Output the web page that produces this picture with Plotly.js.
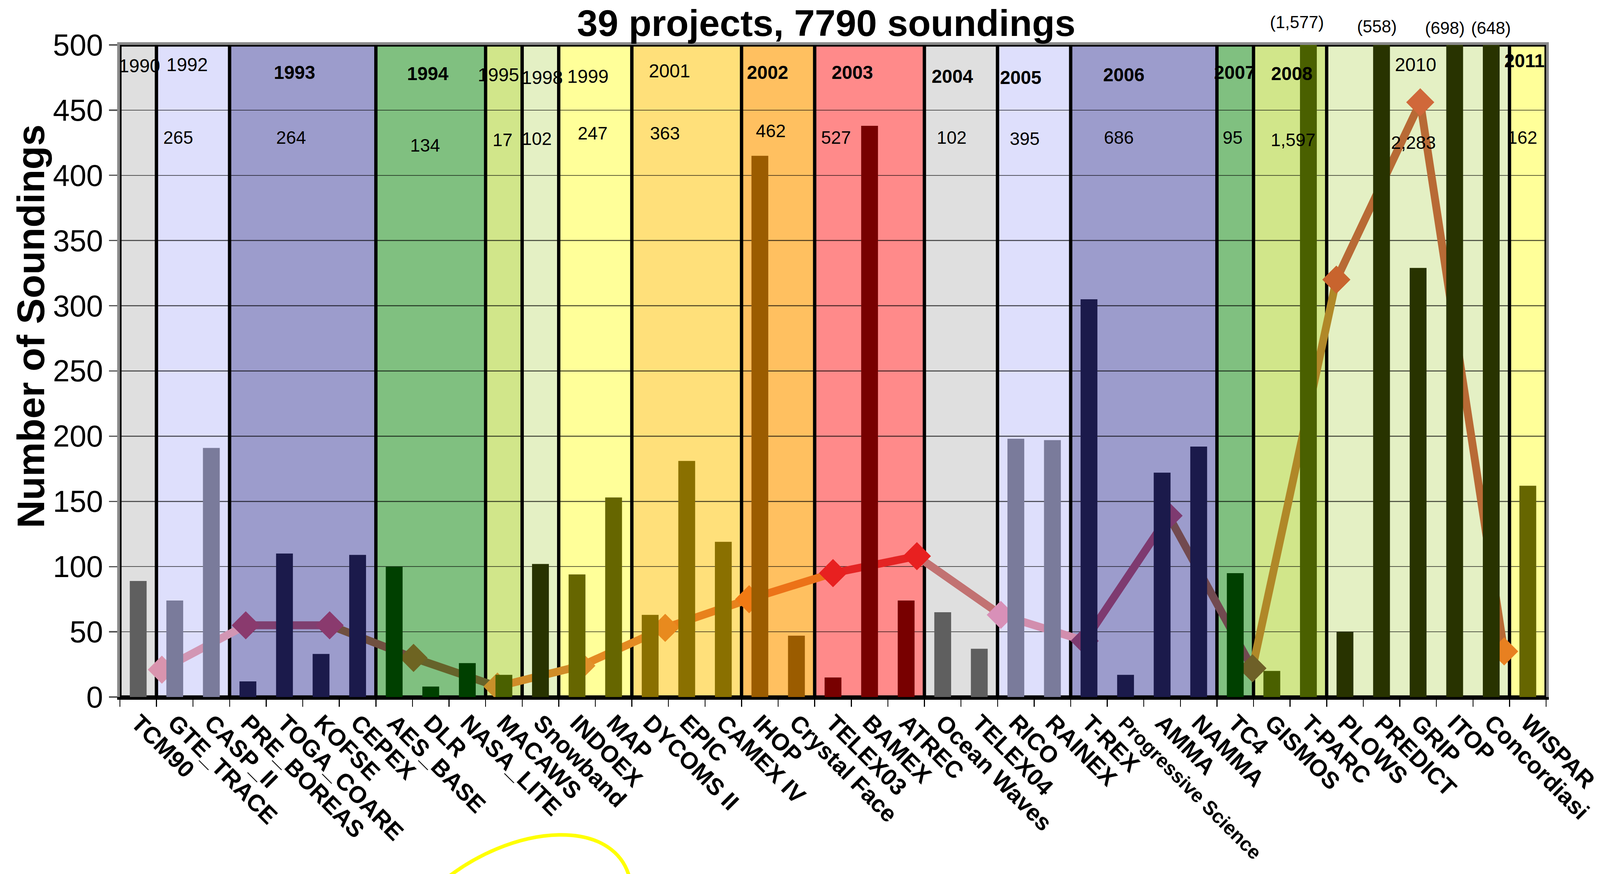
<!DOCTYPE html>
<html><head><meta charset="utf-8">
<script src="https://cdn.plot.ly/plotly-3.0.1.min.js"></script>
<style>html,body{margin:0;padding:0;background:#fff;overflow:hidden}#chart{position:absolute;left:0;top:0}</style>
</head><body><div id="chart"></div>
<script>
// ---------- DATA ----------
const projects = ["TCM90","GTE_TRACE","CASP_II","PRE_BOREAS","TOGA_COARE","KOFSE","CEPEX","AES_BASE","DLR","NASA_LITE","MACAWS","Snowband","INDOEX","MAP","DYCOMS II","EPIC","CAMEX IV","IHOP","Crystal Face","TELEX03","BAMEX","ATREC","Ocean Waves","TELEX04","RICO","RAINEX","T-REX","Progressive Science","AMMA","NAMMA","TC4","GISMOS","T-PARC","PLOWS","PREDICT","GRIP","ITOP","Concordiasi","WISPAR"];
const soundings = [89,74,191,12,110,33,109,100,8,26,17,102,94,153,63,181,119,415,47,15,438,74,65,37,198,197,305,17,172,192,95,20,1577,50,558,329,698,648,162];
const years = ["1990","1992","1993","1994","1995","1998","1999","2001","2002","2003","2004","2005","2006","2007","2008","2010","2011"];
const projectsPerYear = [1,2,4,3,1,1,2,3,2,3,2,2,4,1,2,5,1];
const showYearTotal = [false,true,true,true,true,true,true,true,true,true,true,true,true,true,true,true,true];
const lineValues = [21,55,55,30,8,24,53,75,95,108,63,43,139,22,320,456,35];
const titleText = "39 projects, 7790 soundings";
const yTitleText = "Number of Soundings";
const yMax = 500;

// ---------- STYLE ----------
const boxFill = ["#DFDFDF","#DEDFFC","#9C9CCC","#80C080","#D1E68A","#E4F0C4","#FFFF99","#FFE07A","#FFC060","#FF8A8A","#DFDFDF","#DEDFFC","#9C9CCC","#80C080","#D1E68A","#E4F0C4","#FFFF99"];
const barFill = ["#5F5F5F","#7A7B9B","#1B1A4B","#004000","#4A6000","#283300","#666600","#8A7000","#9B5C00","#780000","#5F5F5F","#7A7B9B","#1B1A4B","#004000","#4A6000","#283300","#666600"];
const yearBold = [false,false,true,true,false,false,false,false,true,true,true,true,true,true,true,false,true];
const pointColors = ["#D994AE","#8A3A6E","#8A3A6E","#6E6422","#C8902A","#E0902A","#E88A1E","#F07A14","#E82020","#E82020","#D890B8","#7E3A70","#7E3A70","#6E6028","#C8642E","#D0683A","#E88020"];
const segColors = ["#D296B4","#7F3F70","#705040","#66632A","#D08C28","#E48A22","#E8821C","#EC7218","#E42424","#C27272","#D28EAE","#7E3A70","#724A50","#B08828","#B86A35","#B86A35"];
const yearLabelDx = [0.03,-0.16,-0.23,-0.08,-0.15,0.05,-0.2,-0.47,-0.29,-0.47,-0.24,-0.37,-0.55,-0.01,0.05,-0.07,-0.09];
const yearLabelY = [484,485,479,478,477,475,476,480,479,479,476,475,477,479,478,485,488];
const totalDx = [0,-0.41,-0.32,-0.16,-0.04,-0.10,-0.08,-0.6,-0.2,-0.92,-0.26,-0.26,-0.69,-0.07,0.08,-0.13,-0.15];
const totalY = [429,429,429,423,427,428,432,432,434,429,429,428,429,429,427,425,429];
const overDx = [-0.31, -0.13, -0.27, -0.01];
const overY = [1.0348, 1.0282, 1.0258, 1.0258];
const FONT = "Liberation Sans, Arial, sans-serif";

// ---------- SIZE (fit the actual viewport) ----------
const W = window.innerWidth || 4879, H = window.innerHeight || 2237;
const sx = W / 4879, sy = H / 2237, s = Math.min(sx, sy), fA = Math.sqrt(sx * sy);
const chartDiv = document.getElementById('chart');
chartDiv.style.width = W + 'px'; chartDiv.style.height = H + 'px';
const xTickSize = 72 * sx;
const longLabelSize = 60 * sx;   // the one very long project name, kept inside the picture

// ---------- BUILD ----------
const groupStart = []; let acc = 0;
projectsPerYear.forEach(n => { groupStart.push(acc); acc += n; });
const barColors = [];
projectsPerYear.forEach((n, g) => { for (let k = 0; k < n; k++) barColors.push(barFill[g]); });
const tickText = projects.map(p => p.length > 14 ? '<span style="font-size:' + longLabelSize.toFixed(1) + 'px">' + p + '</span>' : p);

const traces = [];
for (let j = 0; j < years.length - 1; j++) {
  traces.push({type:'scatter', mode:'lines', x:[years[j], years[j+1]], y:[lineValues[j], lineValues[j+1]],
    xaxis:'x', yaxis:'y', line:{color:segColors[j], width:24*s}, hoverinfo:'skip', showlegend:false});
}
traces.push({type:'scatter', mode:'markers', x:years, y:lineValues, xaxis:'x', yaxis:'y',
  marker:{symbol:'diamond', size:66*s, color:pointColors, line:{width:0}}, showlegend:false});
traces.push({type:'bar', x:projects, y:soundings, xaxis:'x2', yaxis:'y2',
  marker:{color:barColors, line:{width:0}}, showlegend:false});

const shapes = [];
const annotations = [];
years.forEach((yr, g) => {
  const st = groupStart[g], n = projectsPerYear[g];
  shapes.push({type:'rect', xref:'x2', yref:'y2', x0:st-0.5, x1:st+n-0.5, y0:0, y1:yMax,
    fillcolor:boxFill[g], line:{color:'black', width:10*s}, layer:'below'});
  const center = st + (n-1)/2;
  annotations.push({xref:'x2', yref:'y2', x:center + yearLabelDx[g], y:yearLabelY[g], text:yr, showarrow:false,
    xanchor:'center', yanchor:'middle', font:{family:FONT, size:52*fA, color:'black', weight: yearBold[g] ? 'bold' : 'normal'}});
  if (showYearTotal[g]) {
    let tot = 0; for (let k = st; k < st+n; k++) tot += soundings[k];
    annotations.push({xref:'x2', yref:'y2', x:center + totalDx[g], y:totalY[g], text:tot.toLocaleString('en-US'), showarrow:false,
      xanchor:'center', yanchor:'middle', font:{family:FONT, size:50*fA, color:'black'}});
  }
});
let oi = 0;
soundings.forEach((v, i) => {
  if (v > yMax) {
    const k = Math.min(oi, overY.length-1);
    annotations.push({xref:'x2', yref:'paper', x:i + overDx[k], y:overY[k], text:'(' + v.toLocaleString('en-US') + ')',
      showarrow:false, xanchor:'center', yanchor:'middle', font:{family:FONT, size:52*sx, color:'black'}});
    oi++;
  }
});
annotations.push({xref:'paper', yref:'paper', x:0.4953, y:1.0006, xanchor:'center', yanchor:'bottom', showarrow:false,
  text:titleText, font:{family:FONT, size:104*fA, color:'black', weight:'bold'}});
annotations.push({xref:'paper', yref:'paper', x:-0.0628, y:0.5686, xanchor:'center', yanchor:'middle', showarrow:false,
  textangle:-90, text:yTitleText, font:{family:FONT, size:108*fA, color:'black', weight:'bold'}});

shapes.push({type:'path', xref:'paper', yref:'paper', layer:'above',
  path:'M 0.2217,-0.2912 C 0.2745,-0.1893 0.3527,-0.1803 0.3585,-0.2912',
  line:{color:'#FFFF00', width:11*s}});

const layout = {
  width:W, height:H,
  margin:{l:366*sx, r:164*sx, t:115*sy, b:453*sy, pad:0},
  paper_bgcolor:'white', plot_bgcolor:'white',
  showlegend:false, bargap:0.54,
  xaxis:{type:'category', categoryorder:'array', categoryarray:years, range:[-0.5, years.length-0.5],
    side:'top', showticklabels:false, ticks:'', showgrid:false, zeroline:false,
    showline:true, linecolor:'#8a8a8a', linewidth:8*s, fixedrange:true},
  yaxis:{range:[0, yMax], dtick:50, ticks:'outside', ticklen:25*s, tickwidth:4*s, tickcolor:'#555',
    tickfont:{family:FONT, size:84*fA, color:'black'}, ticklabelstandoff:16*s,
    showline:true, linecolor:'#8a8a8a', linewidth:8*s, mirror:true,
    showgrid:true, gridcolor:'rgba(0,0,0,0.62)', gridwidth:3*s, zeroline:false, fixedrange:true},
  xaxis2:{type:'category', categoryorder:'array', categoryarray:projects, overlaying:'x', anchor:'y2', side:'bottom',
    range:[-0.5, projects.length-0.5], tickmode:'array', tickvals:projects, ticktext:tickText,
    ticks:'outside', tickson:'boundaries', ticklen:22*s, tickwidth:3*s, tickcolor:'black',
    tickangle:45, tickfont:{family:FONT, size:xTickSize, color:'black', weight:'bold'},
    showline:true, linecolor:'black', linewidth:8*s, showgrid:false, zeroline:false, automargin:false, fixedrange:true},
  yaxis2:{range:[0, yMax], overlaying:'y', anchor:'x2', visible:false, showgrid:false, zeroline:false, fixedrange:true},
  shapes:shapes, annotations:annotations
};
Plotly.newPlot('chart', traces, layout, {staticPlot:true, displayModeBar:false});
</script>
</body></html>
